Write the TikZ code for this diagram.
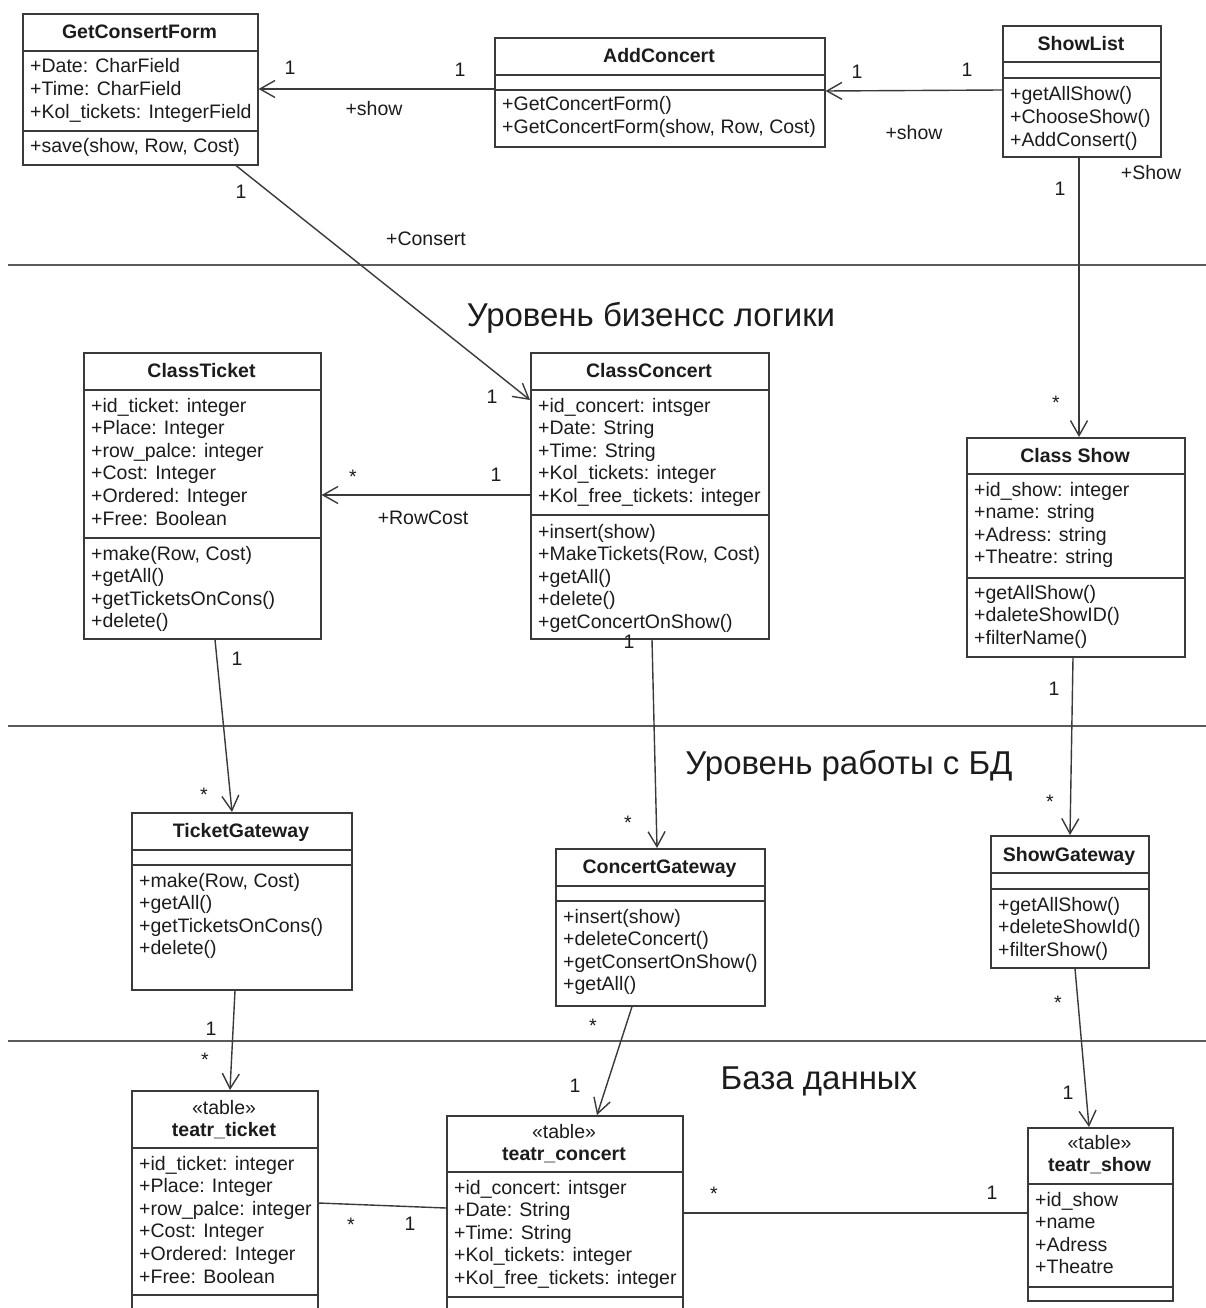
\documentclass[tikz,border=0pt]{standalone}
\usepackage{fontspec}
\setmainfont{Liberation Sans}
\usetikzlibrary{arrows.meta,backgrounds}

\definecolor{linec}{HTML}{3A3A3A}
\definecolor{txtc}{HTML}{1C1C1C}
\definecolor{shadowc}{HTML}{EFEFEF}
\definecolor{sepc}{HTML}{5A5A5A}

\tikzset{
  box/.style={draw=linec, line width=1.6pt, fill=white, inner sep=0pt, anchor=north west},
  div/.style={draw=linec, line width=1.6pt},
  txt/.style={anchor=base west, inner sep=0pt, text=txtc, font=\fontsize{19.5}{22.6}\selectfont},
  ttl/.style={anchor=base, inner sep=0pt, text=txtc, font=\fontsize{19.5}{22.6}\selectfont\bfseries},
  stereo/.style={anchor=base, inner sep=0pt, text=txtc, font=\fontsize{19.5}{22.6}\selectfont},
  lbl/.style={anchor=base, inner sep=0pt, text=txtc, font=\fontsize{19.5}{22.6}\selectfont},
  layer/.style={anchor=base, inner sep=0pt, text=txtc, font=\fontsize{33}{38}\selectfont},
  sep/.style={draw=sepc, line width=1.8pt},
  conn/.style={draw=linec, line width=1.4pt},
  arr/.style={conn, -{Straight Barb[length=15pt,width=17pt,line width=1.4pt]}}
}

% one text line per entry, 22.6pt apart
\newcommand\umllines[4]{%
  \foreach \t [count=\i from 0] in {#4}{%
    \node[txt] (#1-\i) at ({#2},{#3+22.6*\i}) {\t};}}

\begin{document}
\begin{tikzpicture}[x=1pt,y=-1pt]
\clip (0,0) rectangle (1206,1308);
\fill[white] (0,0) rectangle (1206,1308);

% layer separators
\draw[sep] (8,265) -- (1206,265);
\draw[sep] (8,726) -- (1206,726);
\draw[sep] (8,1041) -- (1206,1041);

\node[layer] (lay1) at (651,326) {Уровень бизенсс логики};
\node[layer] (lay2) at (849,774) {Уровень работы с БД};
\node[layer] (lay3) at (819,1089) {База данных};

% ---------- presentation ----------
\node[box, minimum width=235pt, minimum height=151pt] (gcf) at (22,13) {};
\draw[div] (gcf.west |- 0,51) -- (gcf.east |- 0,51);
\draw[div] (gcf.west |- 0,131) -- (gcf.east |- 0,131);
\node[ttl] (gcf-t) at (139.5,39) {GetConsertForm};
\umllines{gcfa}{30}{73}{+Date: CharField,+Time: CharField,+Kol\_tickets: IntegerField}
\umllines{gcfm}{30}{153}{{+save(show, Row, Cost)}}

\node[box, minimum width=330pt, minimum height=109pt] (addc) at (494,37) {};
\draw[div] (addc.west |- 0,75) -- (addc.east |- 0,75);
\draw[div] (addc.west |- 0,90) -- (addc.east |- 0,90);
\node[ttl] (addc-t) at (659,63) {AddConcert};
\umllines{addcm}{502}{111}{+GetConcertForm(),{+GetConcertForm(show, Row, Cost)}}

\node[box, minimum width=158pt, minimum height=131pt] (showlist) at (1002,25) {};
\draw[div] (showlist.west |- 0,62) -- (showlist.east |- 0,62);
\draw[div] (showlist.west |- 0,78) -- (showlist.east |- 0,78);
\node[ttl] (showlist-t) at (1081,51) {ShowList};
\umllines{showlistm}{1010}{101}{+getAllShow(),+ChooseShow(),+AddConsert()}

% ---------- business logic ----------
\node[box, minimum width=237pt, minimum height=286pt] (ticket) at (83,352) {};
\draw[div] (ticket.west |- 0,390) -- (ticket.east |- 0,390);
\draw[div] (ticket.west |- 0,538) -- (ticket.east |- 0,538);
\node[ttl] (ticket-t) at (201.5,377) {ClassTicket};
\umllines{ticketa}{91}{412}{+id\_ticket: integer,+Place: Integer,+row\_palce: integer,+Cost: Integer,+Ordered: Integer,+Free: Boolean}
\umllines{ticketm}{91}{560}{{+make(Row, Cost)},+getAll(),+getTicketsOnCons(),+delete()}

\node[box, minimum width=238pt, minimum height=286pt] (concert) at (530,352) {};
\draw[div] (concert.west |- 0,390) -- (concert.east |- 0,390);
\draw[div] (concert.west |- 0,515) -- (concert.east |- 0,515);
\node[ttl] (concert-t) at (649,377) {ClassConcert};
\umllines{concerta}{538}{412}{+id\_concert: intsger,+Date: String,+Time: String,+Kol\_tickets: integer,+Kol\_free\_tickets: integer}
\umllines{concertm}{538}{538}{+insert(show),{+MakeTickets(Row, Cost)},+getAll(),+delete(),+getConcertOnShow()}

\node[box, minimum width=218pt, minimum height=219pt] (show) at (966,437) {};
\draw[div] (show.west |- 0,474) -- (show.east |- 0,474);
\draw[div] (show.west |- 0,578) -- (show.east |- 0,578);
\node[ttl] (show-t) at (1075,462) {Class Show};
\umllines{showa}{974}{496}{+id\_show: integer,+name: string,+Adress: string,+Theatre: string}
\umllines{showm}{974}{599}{+getAllShow(),+daleteShowID(),+filterName()}

% ---------- data access ----------
\node[box, minimum width=220pt, minimum height=177pt] (tgw) at (131,812) {};
\draw[div] (tgw.west |- 0,850) -- (tgw.east |- 0,850);
\draw[div] (tgw.west |- 0,865) -- (tgw.east |- 0,865);
\node[ttl] (tgw-t) at (241,837) {TicketGateway};
\umllines{tgwm}{139}{887}{{+make(Row, Cost)},+getAll(),+getTicketsOnCons(),+delete()}

\node[box, minimum width=209pt, minimum height=157pt] (cgw) at (555,848) {};
\draw[div] (cgw.west |- 0,886) -- (cgw.east |- 0,886);
\draw[div] (cgw.west |- 0,901) -- (cgw.east |- 0,901);
\node[ttl] (cgw-t) at (659.5,873) {ConcertGateway};
\umllines{cgwm}{563}{923}{+insert(show),+deleteConcert(),+getConsertOnShow(),+getAll()}

\node[box, minimum width=158pt, minimum height=132pt] (sgw) at (990,835) {};
\draw[div] (sgw.west |- 0,873) -- (sgw.east |- 0,873);
\draw[div] (sgw.west |- 0,889) -- (sgw.east |- 0,889);
\node[ttl] (sgw-t) at (1069,861) {ShowGateway};
\umllines{sgwm}{998}{911}{+getAllShow(),+deleteShowId(),+filterShow()}

% ---------- database tables ----------
\node[box, minimum width=186pt, minimum height=230pt] (tt) at (131,1090) {};
\draw[div] (tt.west |- 0,1148) -- (tt.east |- 0,1148);
\draw[div] (tt.west |- 0,1295) -- (tt.east |- 0,1295);
\node[stereo] (tt-s) at (224,1114) {«table»};
\node[ttl] (tt-t) at (224,1136) {teatr\_ticket};
\umllines{tta}{139}{1170}{+id\_ticket: integer,+Place: Integer,+row\_palce: integer,+Cost: Integer,+Ordered: Integer,+Free: Boolean}

\node[box, minimum width=236pt, minimum height=205pt] (tc) at (446,1115) {};
\draw[div] (tc.west |- 0,1172) -- (tc.east |- 0,1172);
\draw[div] (tc.west |- 0,1297) -- (tc.east |- 0,1297);
\node[stereo] (tc-s) at (564,1138) {«table»};
\node[ttl] (tc-t) at (564,1160) {teatr\_concert};
\umllines{tca}{454}{1194}{+id\_concert: intsger,+Date: String,+Time: String,+Kol\_tickets: integer,+Kol\_free\_tickets: integer}

\node[box, minimum width=145pt, minimum height=173pt] (ts) at (1027,1127) {};
\draw[div] (ts.west |- 0,1184) -- (ts.east |- 0,1184);
\draw[div] (ts.west |- 0,1287) -- (ts.east |- 0,1287);
\node[stereo] (ts-s) at (1099.5,1149) {«table»};
\node[ttl] (ts-t) at (1099.5,1171) {teatr\_show};
\umllines{tsa}{1035}{1206}{+id\_show,+name,+Adress,+Theatre}

% drop shadows behind the boxes
\begin{scope}[on background layer]
\foreach \b in {gcf,addc,showlist,ticket,concert,show,tgw,cgw,sgw,tt,tc,ts}{
  \fill[shadowc] ([shift={(10,10)}]\b.north west) rectangle ([shift={(10,10)}]\b.south east);}
\end{scope}

% ---------- associations ----------
\draw[arr] (addc.west |- 0,89) -- (gcf.east |- 0,89);
\draw[arr] (showlist.west |- 0,90) -- (addc.east |- 0,91);
\draw[arr] (gcf.south -| 236,0) -- (concert.west |- 0,400);
\draw[arr] (showlist.south -| 1079,0) -- (show.north -| 1079,0);
\draw[arr] (concert.west |- 0,495) -- (ticket.east |- 0,495);
\draw[arr] (ticket.south -| 215,0) -- (tgw.north -| 232,0);
\draw[arr] (concert.south -| 652,0) -- (cgw.north -| 657,0);
\draw[arr] (show.south -| 1073,0) -- (sgw.north -| 1070,0);
\draw[arr] (tgw.south -| 235,0) -- (tt.north -| 230,0);
\draw[arr] (cgw.south -| 632,0) -- (tc.north -| 597,0);
\draw[arr] (sgw.south -| 1075,0) -- (ts.north -| 1089,0);
\draw[conn] (tt.east |- 0,1203) -- (tc.west |- 0,1208);
\draw[conn] (tc.east |- 0,1213) -- (ts.west |- 0,1213);

% multiplicities and role names
\node[lbl] (m1) at (290,75) {1};
\node[lbl] (m2) at (460,77) {1};
\node[lbl] (r1) at (374,116) {+show};
\node[lbl] (m3) at (857,79) {1};
\node[lbl] (m4) at (967,77) {1};
\node[lbl] (r2) at (914,140) {+show};
\node[lbl] (m5) at (241,199) {1};
\node[lbl] (r3) at (426,245) {+Consert};
\node[lbl] (m6) at (492,403) {1};
\node[lbl] (m7) at (1060,195) {1};
\node[lbl] (r4) at (1151,179) {+Show};
\node[lbl] (m8) at (1056,409) {*};
\node[lbl] (m9) at (496,481) {1};
\node[lbl] (m10) at (353,483) {*};
\node[lbl] (r5) at (423,524) {+RowCost};
\node[lbl] (m11) at (237,665) {1};
\node[lbl] (m12) at (204,801) {*};
\node[lbl] (m13) at (629,648) {1};
\node[lbl] (m14) at (628,829) {*};
\node[lbl] (m15) at (1054,695) {1};
\node[lbl] (m16) at (1050,808) {*};
\node[lbl] (m17) at (211,1035) {1};
\node[lbl] (m18) at (205,1066) {*};
\node[lbl] (m19) at (593,1032) {*};
\node[lbl] (m20) at (575,1092) {1};
\node[lbl] (m21) at (1058,1009) {*};
\node[lbl] (m22) at (1068,1099) {1};
\node[lbl] (m23) at (351,1231) {*};
\node[lbl] (m24) at (410,1230) {1};
\node[lbl] (m25) at (714,1200) {*};
\node[lbl] (m26) at (992,1199) {1};
\end{tikzpicture}
\end{document}
